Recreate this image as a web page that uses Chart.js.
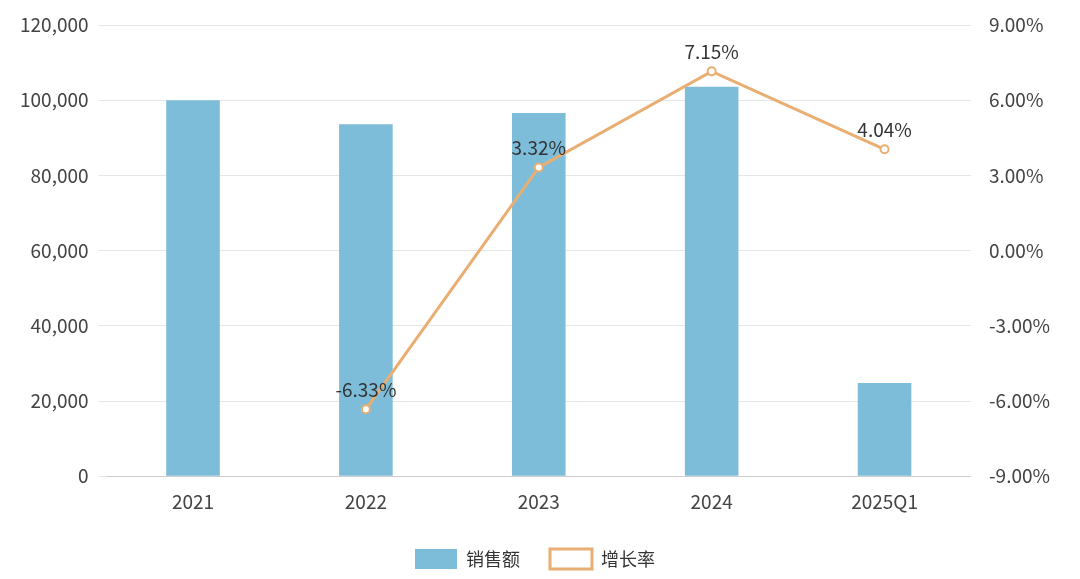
<!DOCTYPE html>
<html><head><meta charset="utf-8">
<script src="https://cdn.jsdelivr.net/npm/chart.js@4"></script>
<style>html,body{margin:0;background:#fff}#w{width:1080px;height:579px}</style>
</head><body><div id="w"><canvas id="c"></canvas></div>
<script>
const categories=["2021","2022","2023","2024","2025Q1"];
const sales=[100000,93600,96600,103600,24800];
const growth=[null,-6.33,3.32,7.15,4.04];
const font="'Noto Sans CJK SC','Noto Sans',sans-serif";
const labelPlugin={id:'lbl',afterDatasetsDraw(ch){
  const ctx=ch.ctx,m=ch.getDatasetMeta(1);
  ctx.save();ctx.font="19px "+font;ctx.fillStyle="#333";ctx.textAlign="center";ctx.textBaseline="bottom";
  m.data.forEach((p,i)=>{if(growth[i]==null)return;ctx.fillText(growth[i].toFixed(2)+"%",p.x,p.y-10);});
  ctx.restore();}};
new Chart(document.getElementById('c'),{
  data:{labels:categories,datasets:[
    {type:'bar',label:'销售额',data:sales,backgroundColor:'#7dbdd9',yAxisID:'y',barPercentage:0.31,categoryPercentage:1,order:2},
    {type:'line',label:'增长率',data:growth,borderColor:'#e8ae72',backgroundColor:'#fff',borderWidth:3,pointRadius:4,pointBorderWidth:2,pointBackgroundColor:'#fff',pointBorderColor:'#e8ae72',yAxisID:'y1',order:1,tension:0}
  ]},
  options:{responsive:true,maintainAspectRatio:false,animation:false,
    layout:{padding:{left:10,right:20,top:25,bottom:0}},
    plugins:{legend:{position:'bottom',labels:{sort:(a,b)=>a.datasetIndex-b.datasetIndex,font:{family:font,size:18},color:'#333',boxWidth:42,boxHeight:20,padding:30}},tooltip:{enabled:false}},
    scales:{
      x:{grid:{display:false},border:{color:'#ccc'},ticks:{font:{family:font,size:19},color:'#444',padding:6}},
      y:{min:0,max:120000,ticks:{stepSize:20000,font:{family:font,size:19},color:'#444',callback:v=>v.toLocaleString('en-US'),padding:10},grid:{color:'#e6e6e6'},border:{display:false}},
      y1:{position:'right',min:-9,max:9,ticks:{stepSize:3,font:{family:font,size:19},color:'#444',callback:v=>v.toFixed(2)+'%',padding:10},grid:{display:false},border:{display:false}}
    }},
  plugins:[labelPlugin]
});
</script></body></html>
